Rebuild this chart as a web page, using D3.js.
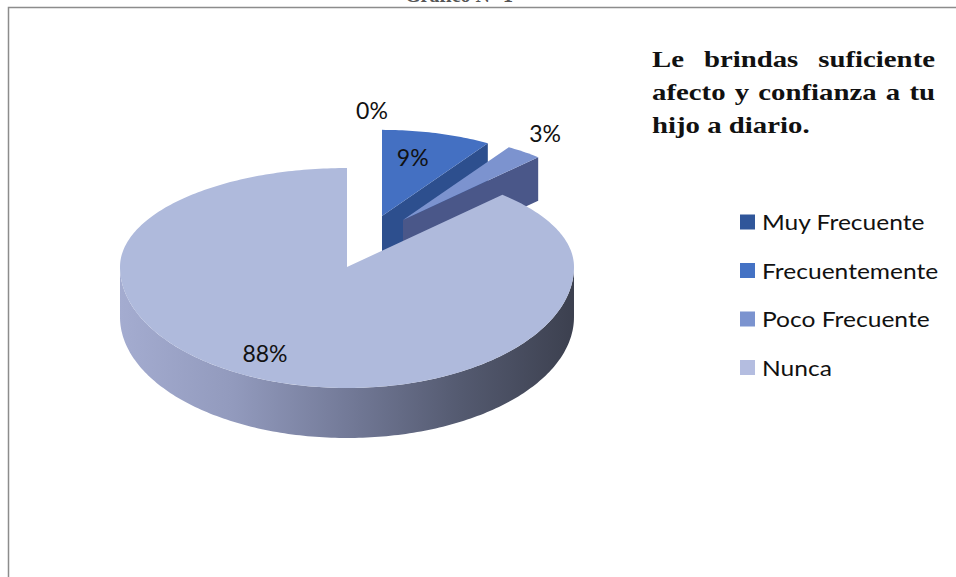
<!DOCTYPE html>
<html><head><meta charset="utf-8">
<script src="https://cdn.jsdelivr.net/npm/d3@7"></script>
<style>html,body{margin:0;padding:0;background:#fff;}svg{display:block;}</style>
</head><body>
<svg id="c" width="956" height="577"></svg>
<script>
const categories = ["Muy Frecuente", "Frecuentemente", "Poco Frecuente", "Nunca"];
const values = [0, 9, 3, 88];
const valueLabels = ["0%", "9%", "3%", "88%"];
const titleLines = ["Le brindas suficiente", "afecto y confianza a tu", "hijo a diario."];
const topTitle = "Gráfico N° 1";

const topColors = ["#2f5597", "#4470c2", "#7c93cf", "#afbadc"];
const cutColors = ["#223f73", "#2d4f8e", "#4a5789", "#6b718e"];
const legendColors = ["#30569a", "#4472c4", "#7b93cf", "#b4bde0"];

const W = 956, H = 577;
const svg = d3.select("#c");

// frame
svg.append("path").attr("d", `M8.5,${H} V7.5 H${W}`).attr("fill", "none")
  .attr("stroke", "#8c8c8c").attr("stroke-width", 1.5);

// clipped top title
svg.append("text").attr("x", 459).attr("y", 2).attr("text-anchor", "middle")
  .attr("font-family", "Liberation Serif").attr("font-weight", "bold").attr("font-size", 20)
  .attr("fill", "#555").text(topTitle);

// 3D pie geometry
const cx = 347, cy = 267, rx = 227, ryT = 99, ryB = 121, depth = 50;
const offsets = [[35, -51], [35, -51], [56, -47], [0, 0]];
const scales = [0.87, 0.87, 0.87, 1];
const rScale = d3.scaleLinear().domain([0, 1]).range([0, 1]);
function proj(theta, r, z, i) {
  const c = Math.cos(theta), s = Math.sin(theta);
  const ry = c > 0 ? ryT : ryB;
  const k = scales[i], off = offsets[i];
  return [cx + off[0] + k * rScale(r) * rx * s, cy + off[1] - k * rScale(r) * ry * c + k * z];
}
const pie = d3.pie().sort(null).value(d => d);
const arcs = pie(values);
const line = d3.line();
function arcPts(a0, a1, r, z, i) {
  const n = Math.max(2, Math.ceil(Math.abs(a1 - a0) / (Math.PI / 180)));
  return d3.range(n + 1).map(j => proj(a0 + (a1 - a0) * j / n, r, z, i));
}

const defs = svg.append("defs");
const g = defs.append("linearGradient").attr("id", "wall").attr("gradientUnits", "userSpaceOnUse")
  .attr("x1", cx - rx).attr("x2", cx + rx).attr("y1", 0).attr("y2", 0);
[[0, "#a4acd0"], [0.25, "#929abd"], [0.5, "#737a98"], [0.75, "#545a70"], [1, "#3c404f"]]
  .forEach(([o, c]) => g.append("stop").attr("offset", o).attr("stop-color", c));

const pieG = svg.append("g");
[0, 1, 2, 3].forEach(i => {
  const a = arcs[i];
  if (a.endAngle - a.startAngle <= 0) return;
  const sg = pieG.append("g");
  const w0 = Math.max(a.startAngle, Math.PI / 2), w1 = Math.min(a.endAngle, 3 * Math.PI / 2);
  if (w1 > w0) {
    const pts = arcPts(w0, w1, 1, 0, i).concat(arcPts(w1, w0, 1, depth, i));
    sg.append("path").attr("d", line(pts) + "Z").attr("fill", i === 3 ? "url(#wall)" : cutColors[i]);
  }
  const e = a.endAngle;
  if (Math.cos(e + Math.PI / 2) < 0 && e < 2 * Math.PI - 1e-6) {
    const pts = [proj(e, 0, 0, i), proj(e, 1, 0, i), proj(e, 1, depth, i), proj(e, 0, depth, i)];
    sg.append("path").attr("d", line(pts) + "Z").attr("fill", cutColors[i]);
  }
  const top = [proj(0, 0, 0, i)].concat(arcPts(a.startAngle, a.endAngle, 1, 0, i));
  sg.append("path").attr("d", line(top) + "Z").attr("fill", topColors[i]);
});

// value labels
const labelR = [1.2, 0.63, 1.1, 0.85];
const labelNudge = [[-10, -3], [-4, -7], [9, -12], [-11, -10]];
arcs.forEach((a, i) => {
  const mid = (a.startAngle + a.endAngle) / 2;
  const p = proj(mid, labelR[i], 0, i);
  svg.append("text").attr("x", p[0] + labelNudge[i][0]).attr("y", p[1] + labelNudge[i][1])
    .attr("text-anchor", "middle").attr("dominant-baseline", "central")
    .attr("font-family", "Lato, 'Open Sans', sans-serif").attr("font-size", 23).attr("fill", "#111")
    .text(valueLabels[i]);
});

// title (justified, slightly widened)
const tx0 = 652, tx1 = 935, tBase = 67, tStep = 33, tStretch = 1.2;
const tg = svg.append("g").attr("transform", `translate(${tx0},0) scale(${tStretch},1)`);
const innerW = (tx1 - tx0) / tStretch;
titleLines.forEach((ln, li) => {
  const words = ln.split(" ");
  const y = tBase + li * tStep;
  const ts = words.map(w => tg.append("text").attr("y", y)
    .attr("font-family", "'Liberation Serif', 'Times New Roman', serif")
    .attr("font-weight", "bold").attr("font-size", 24).attr("fill", "#111").text(w));
  const widths = ts.map(t => t.node().getComputedTextLength());
  const total = d3.sum(widths);
  const last = li === titleLines.length - 1;
  const gap = last ? 6 : (innerW - total) / (words.length - 1);
  let x = 0;
  ts.forEach((t, k) => { t.attr("x", x); x += widths[k] + gap; });
});

// legend
const lg = svg.append("g");
categories.forEach((c, i) => {
  const y = 222 + i * 48.5;
  lg.append("rect").attr("x", 740).attr("y", y - 7.5).attr("width", 15).attr("height", 15)
    .attr("fill", legendColors[i]);
  lg.append("text").attr("transform", `translate(762,${y}) scale(1.17,1)`)
    .attr("dominant-baseline", "central")
    .attr("font-family", "Lato, 'Open Sans', sans-serif").attr("font-size", 21).attr("fill", "#111")
    .text(c);
});
</script>
</body></html>
